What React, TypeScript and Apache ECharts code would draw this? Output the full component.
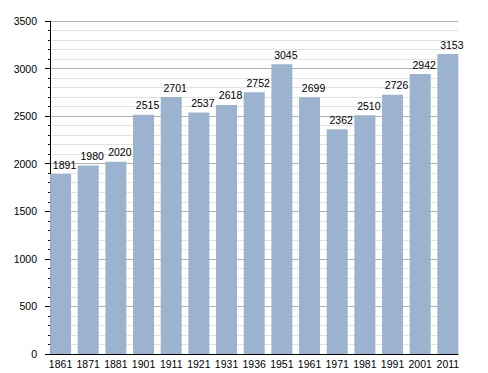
import React, { useEffect, useRef } from "react";
import * as echarts from "echarts";

const years = ["1861", "1871", "1881", "1901", "1911", "1921", "1931", "1936", "1951", "1961", "1971", "1981", "1991", "2001", "2011"];
const population = [1891, 1980, 2020, 2515, 2701, 2537, 2618, 2752, 3045, 2699, 2362, 2510, 2726, 2942, 3153];
const yMax = 3500;
const yStep = 500;

const FONT = "Liberation Sans, Arial, sans-serif";

export default function App() {
  const ref = useRef<HTMLDivElement>(null);
  useEffect(() => {
    if (!ref.current) return;
    const chart = echarts.init(ref.current, undefined, { renderer: "svg" });
    chart.setOption({
      animation: false,
      grid: [
        { left: 50, right: 30, top: 21, bottom: 19, containLabel: false },
        { left: 46.7, right: 26.3, top: 21, bottom: 19, containLabel: false },
      ],
      xAxis: [
        {
          gridIndex: 0,
          type: "category",
          data: years,
          axisLine: { lineStyle: { color: "#000", width: 1 } },
          axisTick: { show: false },
          axisLabel: { show: false },
          splitLine: { show: false },
        },
        {
          gridIndex: 1,
          type: "category",
          data: years,
          axisLine: { show: false },
          axisTick: { show: false },
          axisLabel: { color: "#000", fontSize: 10.5, fontFamily: FONT, margin: 4, interval: 0 },
          splitLine: { show: false },
        },
      ],
      yAxis: [
        {
          gridIndex: 0,
          type: "value",
          min: 0,
          max: yMax,
          interval: yStep,
          axisLine: { show: true, lineStyle: { color: "#000", width: 1 } },
          axisTick: { show: true, length: 5, lineStyle: { color: "#000" } },
          minorTick: { show: true, splitNumber: 5, length: 2, lineStyle: { color: "#000" } },
          splitLine: { show: true, lineStyle: { color: "#b0b0b0", width: 1 } },
          minorSplitLine: { show: true, lineStyle: { color: "#e2e2e2", width: 1 } },
          axisLabel: {
            color: "#000",
            fontSize: 10.5,
            fontFamily: FONT,
            margin: 13,
            formatter: (v: number) => String(v),
          },
        },
        {
          gridIndex: 1,
          type: "value",
          min: 0,
          max: yMax,
          interval: yStep,
          show: false,
          splitLine: { show: false },
        },
      ],
      series: [
        {
          type: "bar",
          xAxisIndex: 1,
          yAxisIndex: 1,
          data: population,
          barWidth: 21,
          itemStyle: { color: "#9bb3cf" },
          z: 3,
          label: {
            show: true,
            position: "top",
            distance: 4,
            offset: [4, 0],
            color: "#000",
            fontSize: 10.5,
            fontFamily: FONT,
          },
        },
      ],
    });
    return () => chart.dispose();
  }, []);
  return <div ref={ref} style={{ width: 488, height: 373, position: "absolute", left: 0, top: 0 }} />;
}
